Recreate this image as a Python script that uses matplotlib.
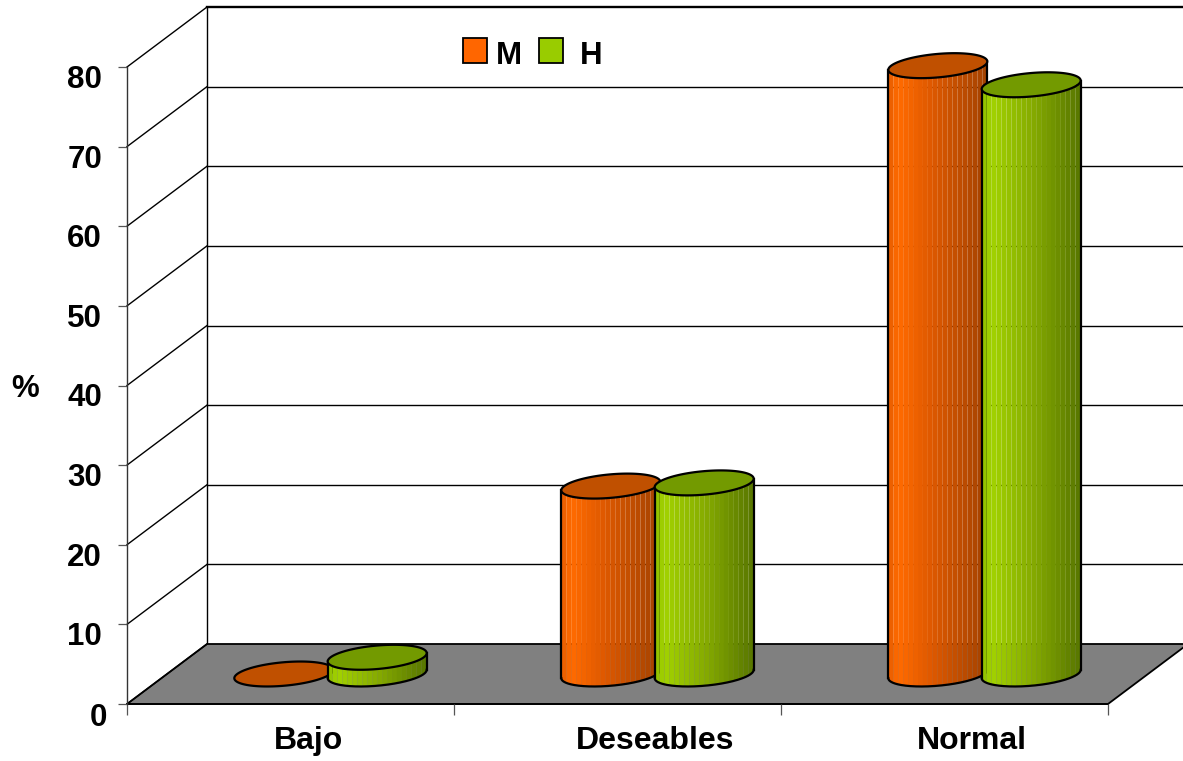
import numpy as np
import matplotlib
matplotlib.use("Agg")
import matplotlib.pyplot as plt
from matplotlib.colors import LinearSegmentedColormap
from matplotlib.patches import Rectangle, Polygon
from matplotlib.transforms import ScaledTranslation

categories = ["Bajo", "Deseables", "Normal"]
series_m = [0.0, 23.6, 76.4]
series_h = [2.1, 24.0, 74.0]
y_ticks = [0, 10, 20, 30, 40, 50, 60, 70, 80]

W, H = 1183, 761
plt.rcParams["font.family"] = ["Liberation Sans", "DejaVu Sans"]
plt.rcParams["font.weight"] = "bold"

fig = plt.figure(figsize=(W / 100, H / 100), dpi=100, facecolor="white")
L, R, B, T = 127, 1108, 704, 67
ax = fig.add_axes([L / W, 1 - B / H, (R - L) / W, (B - T) / H])
ax.set_xlim(-0.5, 2.5)
ax.set_ylim(0, 80)
ax.patch.set_visible(False)

px_x = 3 / (R - L)
px_y = 80 / (B - T)
DX, DY = 80 * px_x, 60 * px_y


def proj(x, v, d):
    return x + d * DX, v + d * DY


# floor and walls
floor = [proj(-0.5, 0, 0), proj(2.5, 0, 0), proj(2.5, 0, 1), proj(-0.5, 0, 1)]
ax.add_patch(Polygon(floor, closed=True, fc="#808080", ec="black", lw=1.3,
                     zorder=1, clip_on=False))
for v in y_ticks:
    if v > 0:
        x0, y0 = proj(-0.5, v, 1)
        x1, y1 = proj(2.5, v, 1)
        ax.plot([x0, x1], [y0, y1], color="black", lw=1.7 if v == 80 else 1.0,
                zorder=0.5, clip_on=False)
    x0, y0 = proj(-0.5, v, 0)
    x1, y1 = proj(-0.5, v, 1)
    ax.plot([x0, x1], [y0, y1], color="black", lw=1.0, zorder=1.1, clip_on=False)
x0, y0 = proj(-0.5, 0, 1)
x1, y1 = proj(-0.5, 80, 1)
ax.plot([x0, x1], [y0, y1], color="black", lw=1.0, zorder=0.5, clip_on=False)

cmap_m = LinearSegmentedColormap.from_list(
    "m", [(0, "#E85D00"), (0.1, "#FF6A00"), (0.45, "#DD5800"), (1, "#A34200")])
cmap_h = LinearSegmentedColormap.from_list(
    "h", [(0, "#8FBF00"), (0.1, "#A2D200"), (0.5, "#86AC00"), (1, "#587600")])

A = 46.6 * px_x          # half width along x
RD = 0.208               # radius along the depth direction (fraction of depth)
OFFSET = 46.7 * px_x
STRIPS = 20
EDGE = 1.6


def cylinder(xc, value, cmap, top_color, z):
    t = np.linspace(0, 2 * np.pi, 241)
    ex = A * np.cos(t) + RD * DX * np.sin(t)
    ey = RD * DY * np.sin(t)
    cx, cy = proj(xc, 0, 0.5)
    if value > 0:
        tl = np.arctan2(-RD * DX, -A)
        tt = np.linspace(tl, tl + np.pi, 241)
        tt = tt if np.sin(tt[1:-1]).mean() < 0 else np.linspace(tl, tl - np.pi, 241)
        lx = A * np.cos(tt) + RD * DX * np.sin(tt)
        ly = RD * DY * np.sin(tt)
        order = np.argsort(lx)
        lx, ly = lx[order], ly[order]
        edges = np.linspace(lx[0], lx[-1], STRIPS + 1)
        for i in range(STRIPS):
            xs = np.linspace(edges[i], edges[i + 1], 5)
            ys = np.interp(xs, lx, ly)
            px = np.r_[xs, xs[::-1]] + cx
            py = np.r_[ys + cy, (ys + cy + value)[::-1]]
            ax.fill(px, py, color=cmap((i + 0.5) / STRIPS), lw=0, zorder=z, clip_on=False)
        ax.plot(lx + cx, ly + cy, color="black", lw=EDGE, zorder=z + 0.1, clip_on=False)
        for k in (0, -1):
            ax.plot([lx[k] + cx] * 2, [ly[k] + cy, ly[k] + cy + value],
                    color="black", lw=EDGE, zorder=z + 0.1, clip_on=False)
    ax.fill(ex + cx, ey + cy + value, fc=top_color, ec="black", lw=EDGE,
            zorder=z + 0.2, clip_on=False)


for i, (vm, vh) in enumerate(zip(series_m, series_h)):
    cylinder(i - OFFSET, vm, cmap_m, "#C05000", 2 + i)
    cylinder(i + OFFSET, vh, cmap_h, "#739A00", 2.5 + i)

# axes, ticks
for s in ("top", "right"):
    ax.spines[s].set_visible(False)
ax.spines["left"].set_color("#333333")
ax.spines["left"].set_linewidth(1.0)
ax.spines["bottom"].set_color("black")
ax.spines["bottom"].set_linewidth(1.3)
ax.spines["bottom"].set_zorder(1.2)

ax.set_yticks(y_ticks)
ax.set_yticklabels([str(v) for v in y_ticks], fontsize=22.5, fontweight="bold")
ax.tick_params(axis="y", length=6.5, width=0.9, color="#555555", pad=11.5)
for v, lab in zip(y_ticks, ax.get_yticklabels()):
    dx, dy = (5, -11) if v == 0 else (0, -9.5)
    lab.set_transform(lab.get_transform()
                      + ScaledTranslation(dx / 100, dy / 100, fig.dpi_scale_trans))

ax.set_xticks([-0.5, 0.5, 1.5, 2.5])
ax.set_xticklabels([])
ax.tick_params(axis="x", length=8, width=0.9, color="#555555")
label_px = [308, 655, 972]
for name, xp in zip(categories, label_px):
    fig.text(xp / W, 1 - 741 / H, name, ha="center", va="center",
             fontsize=23, fontweight="bold")
fig.text(25 / W, 1 - 389 / H, "%", ha="center", va="center",
         fontsize=22.5, fontweight="bold")

# legend
for xp, col, name, tx in [(463, "#FF6600", "M", 509), (539, "#99CC00", "H", 591)]:
    fig.add_artist(Rectangle((xp / W, 1 - 63 / H), 24 / W, 25 / H, fc=col, ec="black",
                             lw=1.3, transform=fig.transFigure))
    fig.text(tx / W, 1 - 56 / H, name, ha="center", va="center",
             fontsize=22.5, fontweight="bold")

fig.savefig("out.png", dpi=100)
